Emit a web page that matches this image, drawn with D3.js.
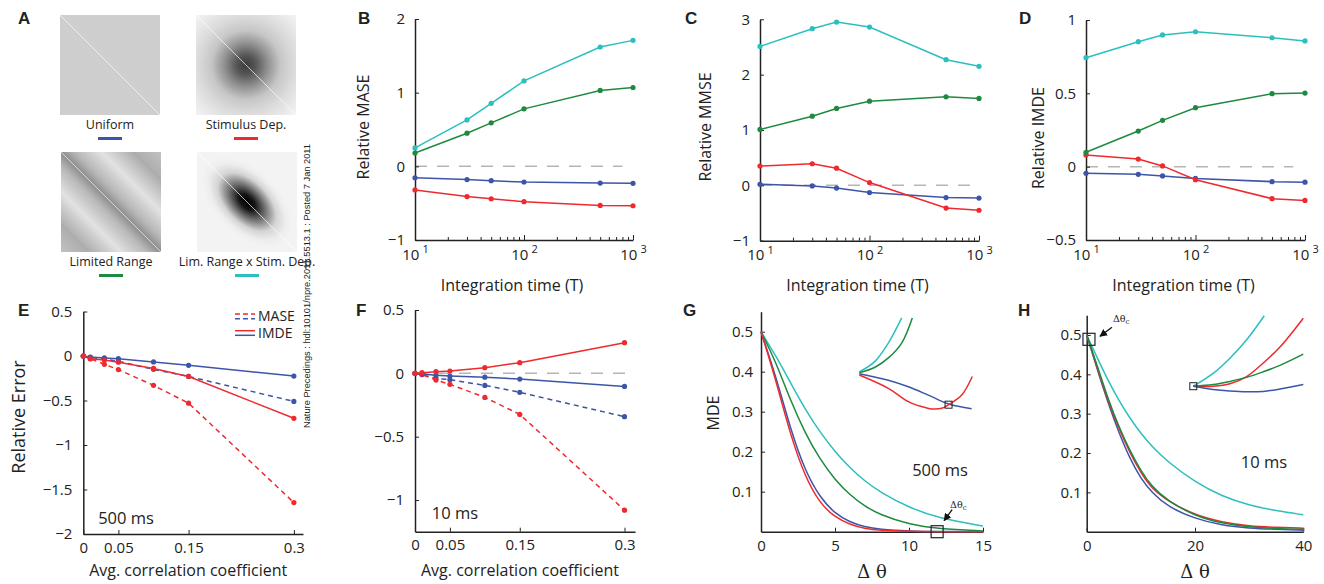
<!DOCTYPE html>
<html lang="en-US">
<head>
<meta charset="utf-8">
<script src="https://d3js.org/d3.v7.min.js"></script>
<style>
    body { margin: 0; background: #fff; }
    svg text { font-family: "Open Sans", sans-serif; fill: #222; }
    .plabel { font-family: "Liberation Sans", Arial, sans-serif; font-weight: bold; font-size: 17px; }
    .serif { font-family: "DejaVu Serif", "Liberation Serif", serif; }
</style>
</head>
<body>
<svg width="1324" height="584"></svg>

<script>
// ---- data ----
var conditions = ["Uniform", "Stimulus Dep.", "Limited Range", "Lim. Range x Stim. Dep."];
var condColors = ["#3d55a8", "#ee2a2f", "#1d8a3f", "#2bbfbf"];

var integrationTimes = [10, 30, 50, 100, 500, 1000];
var maseUniform  = [-0.155, -0.18, -0.195, -0.213, -0.227, -0.23];
var maseStim     = [-0.32, -0.41, -0.44, -0.48, -0.53, -0.535];
var maseLimited  = [0.18, 0.45, 0.59, 0.78, 1.03, 1.07];
var maseLimStim  = [0.25, 0.63, 0.855, 1.16, 1.62, 1.71];

var mmseUniform  = [0.02, -0.01, -0.05, -0.13, -0.22, -0.23];
var mmseStim     = [0.35, 0.39, 0.31, 0.05, -0.41, -0.45];
var mmseLimited  = [1.01, 1.25, 1.39, 1.52, 1.60, 1.57];
var mmseLimStim  = [2.51, 2.83, 2.95, 2.86, 2.27, 2.15];

var imdeUniform  = [-0.045, -0.052, -0.063, -0.08, -0.102, -0.106];
var imdeStim     = [0.08, 0.052, 0.005, -0.089, -0.218, -0.23];
var imdeLimited  = [0.098, 0.243, 0.316, 0.402, 0.498, 0.502];
var imdeLimStim  = [0.743, 0.852, 0.898, 0.92, 0.879, 0.857];

var corrCoefs = [0, 0.01, 0.03, 0.05, 0.1, 0.15, 0.3];
var err500ImdeUniform = [0, -0.011, -0.022, -0.03, -0.067, -0.105, -0.225];
var err500MaseUniform = [0, -0.015, -0.037, -0.06, -0.15, -0.23, -0.51];
var err500ImdeStim    = [0, -0.03, -0.045, -0.07, -0.14, -0.23, -0.70];
var err500MaseStim    = [0, -0.03, -0.093, -0.153, -0.33, -0.53, -1.647];
var err10ImdeUniform  = [0, -0.005, -0.016, -0.021, -0.03, -0.045, -0.103];
var err10MaseUniform  = [0, -0.01, -0.04, -0.05, -0.095, -0.15, -0.342];
var err10ImdeStim     = [0, 0.005, 0.013, 0.018, 0.045, 0.084, 0.242];
var err10MaseStim     = [0, -0.01, -0.053, -0.087, -0.19, -0.324, -1.08];

var dthetaG = [0, 1, 2, 3, 4, 5, 6, 7, 8, 10, 12, 15];
var mdeGUniform = [0.5, 0.39, 0.255, 0.15, 0.085, 0.045, 0.024, 0.012, 0.006, 0.0015, 0.0003, 0];
var mdeGStim    = [0.5, 0.38, 0.24, 0.135, 0.07, 0.036, 0.018, 0.008, 0.003, 0.0005, 0, 0];
var mdeGLim     = [0.5, 0.425, 0.327, 0.245, 0.18, 0.13, 0.092, 0.064, 0.043, 0.018, 0.007, 0.002];
var mdeGLimStim = [0.5, 0.44, 0.372, 0.305, 0.248, 0.2, 0.16, 0.127, 0.1, 0.06, 0.034, 0.014];

var dthetaH = [0, 2, 4, 6, 8, 10, 12, 15, 20, 25, 30, 35, 40];
var mdeHUniform = [0.5, 0.41, 0.325, 0.25, 0.185, 0.135, 0.1, 0.063, 0.033, 0.016, 0.009, 0.006, 0.004];
var mdeHStim    = [0.5, 0.415, 0.33, 0.26, 0.2, 0.15, 0.11, 0.078, 0.042, 0.024, 0.014, 0.011, 0.009];
var mdeHLim     = [0.5, 0.42, 0.335, 0.265, 0.205, 0.155, 0.115, 0.078, 0.04, 0.021, 0.012, 0.008, 0.006];
var mdeHLimStim = [0.5, 0.44, 0.383, 0.332, 0.288, 0.25, 0.217, 0.177, 0.126, 0.09, 0.067, 0.053, 0.043];

// insets (zoomed views, relative units 0..1)
var gInsetLimStimT = [0, 0.136, 0.257, 0.375];
var gInsetLimStimV = [0.41, 0.52, 0.72, 0.99];
var gInsetLimT = [0, 0.139, 0.257, 0.375, 0.469];
var gInsetLimV = [0.40, 0.46, 0.56, 0.72, 0.99];
var gInsetUniformT = [0, 0.257, 0.434, 0.611, 0.791, 0.994];
var gInsetUniformV = [0.39, 0.32, 0.25, 0.16, 0.065, 0.014];
var gInsetStimT = [0, 0.257, 0.434, 0.552, 0.64, 0.729, 0.788, 0.906, 1.0];
var gInsetStimV = [0.376, 0.233, 0.09, 0.036, 0.011, 0.018, 0.055, 0.16, 0.36];

var hInsetT = [0, 0.18, 0.333, 0.485, 0.636, 0.788, 1.0];
var hInsetLimStimT = [0, 0.18, 0.333, 0.485, 0.645];
var hInsetLimStimV = [0.11, 0.27, 0.46, 0.69, 0.99];
var hInsetStimV    = [0.11, 0.11, 0.14, 0.23, 0.40, 0.60, 0.96];
var hInsetLimV     = [0.11, 0.13, 0.17, 0.22, 0.29, 0.37, 0.51];
var hInsetUniformV = [0.11, 0.07, 0.05, 0.04, 0.045, 0.075, 0.13];

// critical delta theta markers
var dthetaCG = [11.9, 0];
var dthetaCH = [0.42, 0.489];

// ---- drawing ----
var svg = d3.select("svg");
var minus = function(d) { return d < 0 ? "\u2212" + Math.abs(d) : String(d); };

function styleAxis(g, fs) {
    g.attr("font-family", null).attr("font-size", null);
    g.select(".domain").attr("stroke", "#222").attr("stroke-width", 1.5);
    g.selectAll(".tick line").attr("stroke", "#222");
    g.selectAll(".tick text").attr("font-size", fs).attr("fill", "#222");
}

function panelLabel(txt, x, y) {
    svg.append("text").attr("class", "plabel").attr("x", x).attr("y", y).text(txt);
}

function yTitle(txt, x, y, fs) {
    svg.append("text").attr("transform", `translate(${x},${y}) rotate(-90)`)
        .attr("text-anchor", "middle").attr("dy", "0.35em").attr("font-size", fs).text(txt);
}

function xTitle(txt, x, y, fs, cls) {
    svg.append("text").attr("class", cls || null).attr("x", x).attr("y", y)
        .attr("text-anchor", "middle").attr("dy", "0.35em").attr("font-size", fs).text(txt);
}

// Panel A: correlation structures
var defs = svg.append("defs");
var rg1 = defs.append("radialGradient").attr("id", "gStim").attr("cx", 0.5).attr("cy", 0.5).attr("r", 0.72);
[[0, "#3c3c3c"], [0.13, "#555"], [0.3, "#909090"], [0.48, "#c6c6c6"], [0.66, "#dadada"], [0.85, "#eaeaea"], [1, "#f5f5f5"]]
    .forEach(s => rg1.append("stop").attr("offset", s[0]).attr("stop-color", s[1]));
var lg = defs.append("linearGradient").attr("id", "gLim").attr("x1", 0).attr("y1", 1).attr("x2", 1).attr("y2", 0);
[[0, "#c2c2c2"], [0.14, "#adadad"], [0.3, "#e2e2e2"], [0.43, "#b8b8b8"], [0.5, "#8e8e8e"],
 [0.57, "#b8b8b8"], [0.7, "#e2e2e2"], [0.86, "#adadad"], [1, "#c2c2c2"]]
    .forEach(s => lg.append("stop").attr("offset", s[0]).attr("stop-color", s[1]));
var rg2 = defs.append("radialGradient").attr("id", "gLimStim").attr("cx", 0.5).attr("cy", 0.5).attr("r", 0.55)
    .attr("gradientTransform", "translate(0.5,0.5) rotate(45) scale(1,0.58) translate(-0.5,-0.5)");
[[0, "#000"], [0.18, "#161616"], [0.42, "#787878"], [0.65, "#d4d4d4"], [0.85, "#ededed"], [1, "#f3f3f3"]]
    .forEach(s => rg2.append("stop").attr("offset", s[0]).attr("stop-color", s[1]));

var thumbFills = ["#cdcecd", "url(#gStim)", "url(#gLim)", "url(#gLimStim)"];
var thumbX = [60, 196, 61, 197], thumbY = [15, 15, 152, 152];
conditions.forEach(function(name, i) {
    var g = svg.append("g").attr("transform", `translate(${thumbX[i]},${thumbY[i]})`);
    g.append("rect").attr("width", 100).attr("height", 100)
        .attr("fill", i === 3 ? "#f2f2f2" : thumbFills[i]);
    if (i === 3) g.append("rect").attr("width", 100).attr("height", 100).attr("fill", thumbFills[i]);
    g.append("line").attr("x1", 0).attr("y1", 0).attr("x2", 100).attr("y2", 100)
        .attr("stroke", "#fff").attr("stroke-width", 0.8).attr("opacity", 0.85);
    g.append("text").attr("x", 50).attr("y", 110).attr("text-anchor", "middle")
        .attr("dy", "0.35em").attr("font-size", 12.5).text(name);
    g.append("rect").attr("x", 38).attr("y", 122).attr("width", 24).attr("height", 3).attr("fill", condColors[i]);
});
panelLabel("A", 18, 24);

// Panels B, C, D: relative error vs integration time
var logTicks = [];
[10, 100].forEach(function(b) { for (var k = 1; k < 10; k++) logTicks.push(b * k); });
logTicks.push(1000);

function timePanel(o) {
    var x = d3.scaleLog().domain([10, 1000]).range([o.x0, o.x1]);
    var y = d3.scaleLinear().domain(o.yDomain).range([o.yBot, o.yTop]);
    svg.append("line").attr("x1", x(10)).attr("x2", x(o.zeroEnd)).attr("y1", y(0)).attr("y2", y(0))
        .attr("stroke", "#b5b5b5").attr("stroke-width", 1.5).attr("stroke-dasharray", "12,10");

    var ax = svg.append("g").attr("transform", `translate(0,${o.yBot})`)
        .call(d3.axisBottom(x).tickValues(logTicks).tickSize(-3).tickSizeOuter(0).tickPadding(9).tickFormat(() => ""));
    styleAxis(ax, 15);
    ax.selectAll(".tick").filter(d => d === 10 || d === 100 || d === 1000).each(function(d) {
        var t = d3.select(this);
        t.select("line").attr("y2", -5);
        t.select("text").text("10").append("tspan").attr("dy", "-0.6em").attr("dx", 3)
            .attr("font-size", 11).text(Math.round(Math.log10(d)));
    });
    var ay = svg.append("g").attr("transform", `translate(${o.x0},0)`)
        .call(d3.axisLeft(y).tickValues(o.yTicks).tickSize(-4).tickSizeOuter(0).tickPadding(10).tickFormat(minus));
    styleAxis(ay, 15);

    var line = d3.line().x((d, j) => x(integrationTimes[j])).y(d => y(d));
    o.series.forEach(function(vals, i) {
        svg.append("path").attr("d", line(vals)).attr("fill", "none")
            .attr("stroke", condColors[i]).attr("stroke-width", 1.5);
        svg.append("g").selectAll("circle").data(vals).enter().append("circle")
            .attr("cx", (d, j) => x(integrationTimes[j])).attr("cy", d => y(d))
            .attr("r", 2.6).attr("fill", condColors[i]);
    });
    yTitle(o.ylabel, o.ylx, o.yly, 16);
    xTitle("Integration time (T)", (o.x0 + o.x1) / 2 - 12, 285, 16);
}

timePanel({x0: 415, x1: 633, yTop: 19, yBot: 240, yDomain: [-1, 2], yTicks: [-1, 0, 1, 2], zeroEnd: 800,
    series: [maseUniform, maseStim, maseLimited, maseLimStim], ylabel: "Relative MASE", ylx: 363, yly: 127});
timePanel({x0: 760, x1: 979, yTop: 19.3, yBot: 240.7, yDomain: [-1, 3], yTicks: [-1, 0, 1, 2, 3], zeroEnd: 1000,
    series: [mmseUniform, mmseStim, mmseLimited, mmseLimStim], ylabel: "Relative MMSE", ylx: 705, yly: 127});
timePanel({x0: 1086, x1: 1305, yTop: 20, yBot: 240, yDomain: [-0.5, 1], yTicks: [-0.5, 0, 0.5, 1], zeroEnd: 780,
    series: [imdeUniform, imdeStim, imdeLimited, imdeLimStim], ylabel: "Relative IMDE", ylx: 1038, yly: 138});
panelLabel("B", 358, 24);
panelLabel("C", 685, 24);
panelLabel("D", 1019, 24);

// Panels E, F: relative error vs correlation coefficient
function corrPanel(o) {
    var x = d3.scaleLinear().domain([0, o.xMax]).range([o.x0, o.x1]);
    var y = d3.scaleLinear().domain(o.yDomain).range([o.yBot, o.yTop]);
    if (o.zeroLine) {
        svg.append("line").attr("x1", o.x0).attr("x2", o.x1).attr("y1", y(0)).attr("y2", y(0))
            .attr("stroke", "#b5b5b5").attr("stroke-width", 1.5).attr("stroke-dasharray", "12,10");
    }
    var ax = svg.append("g").attr("transform", `translate(0,${o.yBot})`)
        .call(d3.axisBottom(x).tickValues([0, 0.05, 0.15, 0.3]).tickSize(-4).tickSizeOuter(0).tickPadding(8)
            .tickFormat(d => d === 0 ? "0" : String(d)));
    styleAxis(ax, 15);
    var ay = svg.append("g").attr("transform", `translate(${o.x0},0)`)
        .call(d3.axisLeft(y).tickValues(o.yTicks).tickSize(-4).tickSizeOuter(0).tickPadding(11).tickFormat(minus));
    styleAxis(ay, 15);

    var line = d3.line().x((d, j) => x(corrCoefs[j])).y(d => y(d));
    o.series.forEach(function(s) {
        svg.append("path").attr("d", line(s.vals)).attr("fill", "none")
            .attr("stroke", condColors[s.c]).attr("stroke-width", 1.5)
            .attr("stroke-dasharray", s.dash ? "5,4" : null);
        svg.append("g").selectAll("circle").data(s.vals).enter().append("circle")
            .attr("cx", (d, j) => x(corrCoefs[j])).attr("cy", d => y(d))
            .attr("r", 2.6).attr("fill", condColors[s.c]);
    });
    svg.append("text").attr("x", o.noteX).attr("y", o.noteY).attr("text-anchor", "middle")
        .attr("dy", "0.35em").attr("font-size", 16.5).text(o.note);
    xTitle("Avg. correlation coefficient", (o.x0 + o.x1) / 2 - 5, 570, 16);
}

corrPanel({x0: 83.3, x1: 303, xMax: 0.313, yTop: 311.5, yBot: 534, yDomain: [-2, 0.5],
    yTicks: [-2, -1.5, -1, -0.5, 0, 0.5], zeroLine: false, note: "500 ms", noteX: 126, noteY: 518,
    series: [{vals: err500MaseUniform, c: 0, dash: true}, {vals: err500MaseStim, c: 1, dash: true},
             {vals: err500ImdeUniform, c: 0}, {vals: err500ImdeStim, c: 1}]});
corrPanel({x0: 415, x1: 635, xMax: 0.315, yTop: 310, yBot: 531.7, yDomain: [-1.25, 0.5],
    yTicks: [-1, -0.5, 0, 0.5], zeroLine: true, note: "10 ms", noteX: 455, noteY: 513,
    series: [{vals: err10MaseUniform, c: 0, dash: true}, {vals: err10MaseStim, c: 1, dash: true},
             {vals: err10ImdeUniform, c: 0}, {vals: err10ImdeStim, c: 1}]});
yTitle("Relative Error", 19, 417, 18);
panelLabel("E", 18, 316);
panelLabel("F", 356, 316);

// legend in E
[["MASE", 314, 318.7, "5,3"], ["IMDE", 330.7, 335.3, null]].forEach(function(l) {
    svg.append("line").attr("x1", 235).attr("x2", 255).attr("y1", l[1]).attr("y2", l[1])
        .attr("stroke", condColors[1]).attr("stroke-width", 1.5).attr("stroke-dasharray", l[3]);
    svg.append("line").attr("x1", 235).attr("x2", 255).attr("y1", l[2]).attr("y2", l[2])
        .attr("stroke", condColors[0]).attr("stroke-width", 1.5).attr("stroke-dasharray", l[3]);
    svg.append("text").attr("x", 258).attr("y", (l[1] + l[2]) / 2).attr("dy", "0.35em")
        .attr("font-size", 14).text(l[0]);
});

// Panels G, H: MDE vs delta theta
svg.append("defs").append("marker").attr("id", "arr").attr("viewBox", "0 0 10 10")
    .attr("refX", 9).attr("refY", 5).attr("markerWidth", 6).attr("markerHeight", 6).attr("orient", "auto")
    .append("path").attr("d", "M0,0 L10,5 L0,10 z").attr("fill", "#111");

function mdePanel(o) {
    var x = d3.scaleLinear().domain([0, o.xMax]).range([o.x0, o.x1]);
    var y = d3.scaleLinear().domain([0, 0.55]).range([531.7, o.yTop]);
    var ax = svg.append("g").attr("transform", `translate(0,${y(0)})`)
        .call(d3.axisBottom(x).tickValues(o.xTicks).tickSize(-4).tickSizeOuter(0).tickPadding(9));
    styleAxis(ax, 15);
    var ay = svg.append("g").attr("transform", `translate(${o.x0},0)`)
        .call(d3.axisLeft(y).tickValues([0.1, 0.2, 0.3, 0.4, 0.5]).tickSize(-4).tickSizeOuter(0)
            .tickPadding(o.pad).tickFormat(d3.format(".1f")));
    styleAxis(ay, 15);

    var line = d3.line().x((d, j) => x(o.dtheta[j])).y(d => y(d)).curve(d3.curveBasis);
    o.series.forEach(function(s) {
        svg.append("path").attr("d", line(s.vals)).attr("fill", "none")
            .attr("stroke", condColors[s.c]).attr("stroke-width", 1.5);
    });

    // inset
    var ix = d3.scaleLinear().domain([0, 1]).range(o.insetX);
    var iy = d3.scaleLinear().domain([0, 1]).range(o.insetY);
    var iline = d3.line().x(d => ix(d[0])).y(d => iy(d[1])).curve(d3.curveCatmullRom.alpha(0.5));
    o.inset.forEach(function(s) {
        svg.append("path").attr("d", iline(d3.zip(s.t, s.v))).attr("fill", "none")
            .attr("stroke", condColors[s.c]).attr("stroke-width", 1.5);
    });
    svg.append("rect").attr("x", ix(o.insetBox[0]) - 3.5).attr("y", iy(o.insetBox[1]) - 3.5)
        .attr("width", 7).attr("height", 7).attr("fill", "none").attr("stroke", "#222").attr("stroke-width", 1);

    // critical point box + arrow
    var bx = x(o.crit[0]), by = y(o.crit[1]);
    svg.append("rect").attr("x", bx - 6).attr("y", by - 6).attr("width", 12).attr("height", 12)
        .attr("fill", "none").attr("stroke", "#222").attr("stroke-width", 1.2);
    svg.append("line").attr("x1", bx + o.arrow[0]).attr("y1", by + o.arrow[1])
        .attr("x2", bx + o.arrow[2]).attr("y2", by + o.arrow[3])
        .attr("stroke", "#111").attr("stroke-width", 1.3).attr("marker-end", "url(#arr)");
    var lt = svg.append("text").attr("class", "serif").attr("x", bx + o.lab[0]).attr("y", by + o.lab[1])
        .attr("font-size", 9.5).attr("fill", "#444").text("\u0394\u03b8");
    lt.append("tspan").attr("font-size", 7).attr("dy", 2).text("c");

    svg.append("text").attr("x", o.note[1]).attr("y", o.note[2]).attr("text-anchor", "middle")
        .attr("dy", "0.35em").attr("font-size", 16.5).text(o.note[0]);
    xTitle("\u0394 \u03b8", (o.x0 + o.x1) / 2, 572, 18, "serif");
}

mdePanel({x0: 761, x1: 983, xMax: 15, yTop: 311.7, xTicks: [0, 5, 10, 15], pad: 8, dtheta: dthetaG,
    series: [{vals: mdeGLimStim, c: 3}, {vals: mdeGLim, c: 2}, {vals: mdeGUniform, c: 0}, {vals: mdeGStim, c: 1}],
    insetX: [859.3, 972.3], insetY: [410, 317],
    inset: [{t: gInsetLimStimT, v: gInsetLimStimV, c: 3}, {t: gInsetLimT, v: gInsetLimV, c: 2},
            {t: gInsetUniformT, v: gInsetUniformV, c: 0}, {t: gInsetStimT, v: gInsetStimV, c: 1}],
    insetBox: [0.79, 0.057], crit: dthetaCG, arrow: [15, -22, 7, -11], lab: [13, -24],
    note: ["500 ms", 940, 470]});
mdePanel({x0: 1086.7, x1: 1303.3, xMax: 40, yTop: 315.3, xTicks: [0, 20, 40], pad: 5, dtheta: dthetaH,
    series: [{vals: mdeHLimStim, c: 3}, {vals: mdeHUniform, c: 0}, {vals: mdeHStim, c: 1}, {vals: mdeHLim, c: 2}],
    insetX: [1193.3, 1303.3], insetY: [395, 315],
    inset: [{t: hInsetLimStimT, v: hInsetLimStimV, c: 3}, {t: hInsetT, v: hInsetStimV, c: 1},
            {t: hInsetT, v: hInsetLimV, c: 2}, {t: hInsetT, v: hInsetUniformV, c: 0}],
    insetBox: [0, 0.11], crit: dthetaCH, arrow: [23, -12, 11, -3], lab: [24, -17],
    note: ["10 ms", 1264, 462]});
yTitle("MDE", 713, 413, 16);
panelLabel("G", 683, 316);
panelLabel("H", 1018, 316);

// vertical preprint stamp
svg.append("text").attr("transform", "translate(310,286) rotate(-90)")
    .attr("text-anchor", "middle")
    .attr("font-size", 9).attr("fill", "#333").attr("textLength", 284).attr("lengthAdjust", "spacingAndGlyphs")
    .style("font-family", "'Liberation Sans', Arial, sans-serif")
    .text("Nature Precedings : hdl:10101/npre.2011.5513.1 : Posted 7 Jan 2011");
</script>
</body>
</html>
